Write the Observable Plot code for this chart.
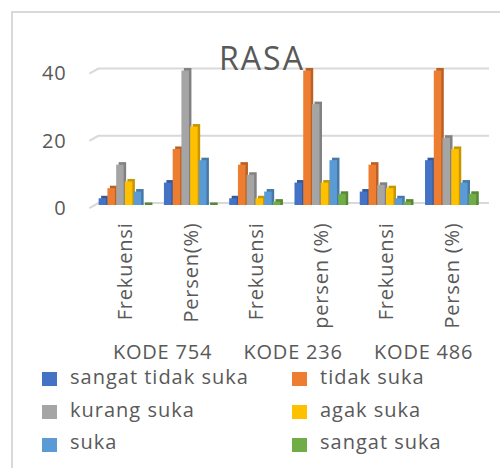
<!DOCTYPE html>
<html><head><meta charset="utf-8">
<script src="https://cdn.jsdelivr.net/npm/d3@7"></script>
<script src="https://cdn.jsdelivr.net/npm/@observablehq/plot@0.6"></script>
<style>
body{margin:0;background:#fff;font-family:"Open Sans",sans-serif;}
#wrap{position:relative;width:500px;height:468px;overflow:hidden;background:#fff;}
#frame{position:absolute;left:11px;top:11px;width:600px;height:600px;border-left:2px solid #d9d9d9;border-top:2px solid #d9d9d9;}
#chart{position:absolute;left:0;top:0;}
#title{position:absolute;left:0;width:524px;top:42px;text-align:center;font-size:32px;line-height:32px;color:#595959;letter-spacing:2px;}
.leg{position:absolute;font-size:20px;line-height:20px;color:#595959;white-space:nowrap;letter-spacing:1px;}
.sw{position:absolute;width:15px;height:14px;}
</style></head><body>
<div id="wrap"><div id="frame"></div><div id="chart"></div><div id="title">RASA</div><div id="legend"></div></div>
<script>
const groups = ["Frekuensi", "Persen(%)", "Frekuensi", "persen (%)", "Frekuensi", "Persen (%)"];
const kodes = ["KODE 754", "KODE 236", "KODE 486"];
const seriesNames = ["sangat tidak suka", "tidak suka", "kurang suka", "agak suka", "suka", "sangat suka"];
const colors = ["#4472C4", "#ED7D31", "#A5A5A5", "#FFC000", "#5B9BD5", "#70AD47"];
const sangatTidakSuka = [2, 6.67, 2, 6.67, 4, 13.33];
const tidakSuka = [5, 16.67, 12, 40, 12, 40];
const kurangSuka = [12, 40, 9, 30, 6, 20];
const agakSuka = [7, 23.33, 2, 6.67, 5, 16.67];
const suka = [4, 13.33, 4, 13.33, 2, 6.67];
const sangatSuka = [0, 0, 1, 3.33, 1, 3.33];
const yTicks = [0, 20, 40];

const seriesValues = [sangatTidakSuka, tidakSuka, kurangSuka, agakSuka, suka, sangatSuka];
const rows = [];
groups.forEach((g, gi) => seriesValues.forEach((vals, si) => rows.push({g: gi, s: si, value: vals[gi]})));

const STEP = 0.134, W = 0.115, START = -0.41;
const x1 = d => d.g + START + d.s * STEP;
const x2 = d => d.g + START + d.s * STEP + W;

const chart = Plot.plot({
  width: 500, height: 370,
  marginLeft: 98, marginRight: 11, marginTop: 70.5, marginBottom: 165,
  style: {fontFamily: "Open Sans", color: "#595959", background: "transparent", overflow: "visible", letterSpacing: "0.8px"},
  x: {domain: [-0.42, 5.57], label: null},
  y: {domain: [0, 40], label: null},
  color: {type: "identity"},
  marks: [
    Plot.ruleY(yTicks, {stroke: "#d9d9d9", strokeWidth: 2, dy: -2.5}),
    Plot.link(yTicks, {x1: -0.42, x2: -0.56, y1: d => d, y2: d => d - 1.5, dy: -2.5, stroke: "#d9d9d9", strokeWidth: 2}),
    Plot.rect(rows, {x1, x2, y1: 0, y2: "value", fill: d => d3.color(colors[d.s]).darker(0.7).formatHex(), dx: 2.5, dy: -2.5, insetBottom: -2.5}),
    Plot.rect(rows, {x1, x2, y1: 0, y2: "value", fill: d => colors[d.s]}),
    Plot.axisY(yTicks, {tickSize: 0, tickPadding: 32, fontSize: 20, dy: 3, label: null}),
    Plot.axisX(d3.range(groups.length), {tickFormat: i => groups[i], tickRotate: -90, tickSize: 0, tickPadding: 17, fontSize: 20, label: null}),
    Plot.axisX([0.5, 2.5, 4.5], {tickFormat: d => kodes[(d - 0.5) / 2], tickSize: 0, tickPadding: 139, fontSize: 20, dx: 4, label: null})
  ]
});
document.getElementById("chart").appendChild(chart);

const legend = d3.select("#legend");
const rowTops = [367, 399.5, 432];
const swTops = [372, 404.5, 437.5];
seriesNames.forEach((name, i) => {
  const r = Math.floor(i / 2), c = i % 2;
  legend.append("div").attr("class", "sw").style("left", (c ? 292 : 42) + "px").style("top", swTops[r] + "px").style("background", colors[i]);
  legend.append("div").attr("class", "leg").style("left", (c ? 320 : 70) + "px").style("top", rowTops[r] + "px").text(name);
});
</script>
</body></html>
